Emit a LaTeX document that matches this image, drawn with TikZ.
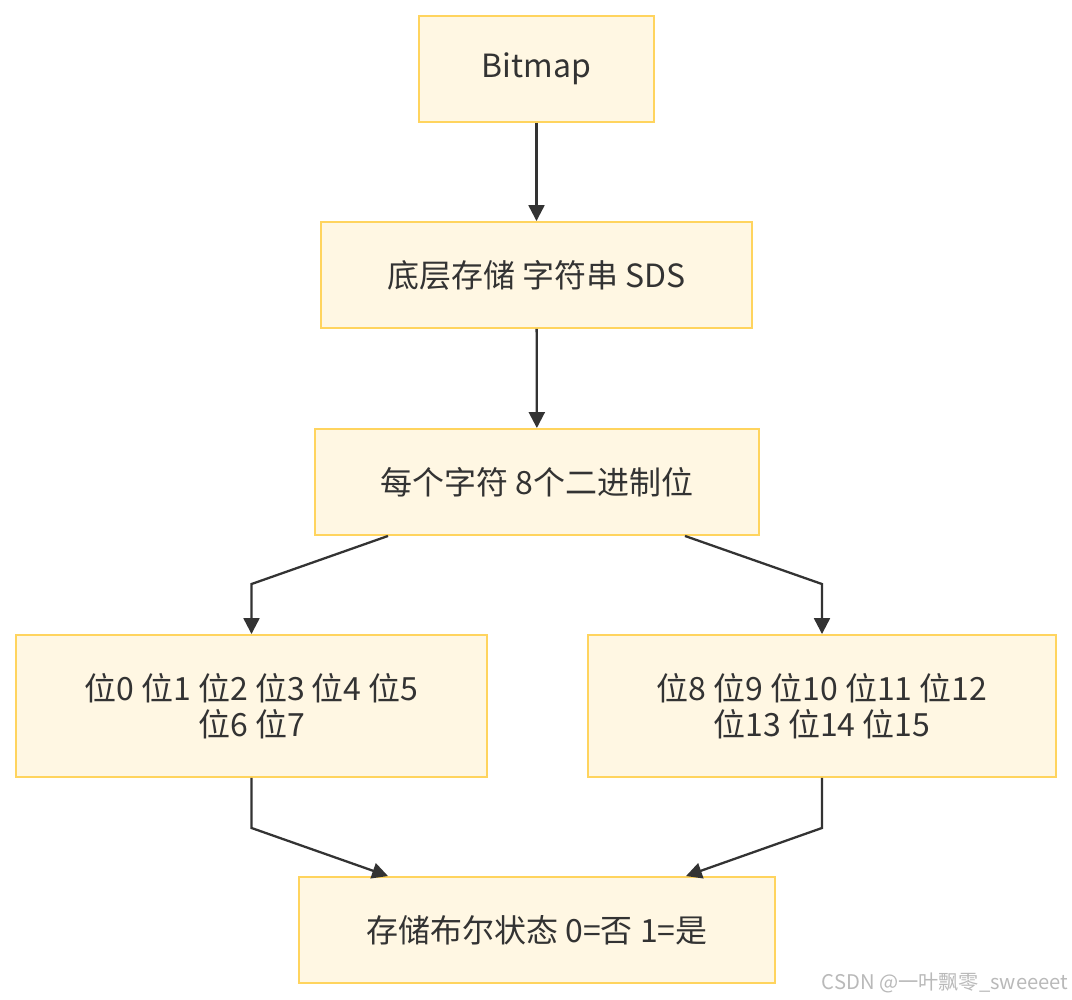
\documentclass[tikz,border=0pt]{standalone}
\usepackage{fontspec}
\usepackage{xcolor}
\usepackage{tikz}
\usetikzlibrary{arrows.meta, positioning}
\newfontfamily\cjk{Noto Sans CJK SC}
\definecolor{boxFill}{HTML}{FFF7E3}
\definecolor{boxEdge}{HTML}{FFD45E}
\definecolor{inkGray}{HTML}{333333}

\begin{document}
\begin{tikzpicture}[
    box/.style={rectangle, draw=boxEdge, fill=boxFill, line width=1.1pt,
        inner sep=0pt, align=center, text=inkGray,
        font=\cjk\fontsize{18.2}{20.6}\selectfont},
    arr/.style={-{Triangle[length=9pt, width=9pt]}, line width=1.3pt, inkGray}
]
\useasboundingbox (0,0) rectangle (21.44,-20);
\node[box, minimum width=4.7cm, minimum height=2.12cm] (bitmap) at (10.73,-1.38)
    {Bitmap};
\node[box, minimum width=8.62cm, minimum height=2.12cm] (sds) at (10.73,-5.5)
    {底层存储 字符串 SDS};
\node[box, minimum width=8.88cm, minimum height=2.12cm] (bits) at (10.74,-9.64)
    {每个字符 8个二进制位};
\node[box, minimum width=9.42cm, minimum height=2.84cm] (lowbits) at (5.03,-14.12)
    {位0 位1 位2 位3 位4 位5\\位6 位7};
\node[box, minimum width=9.36cm, minimum height=2.84cm] (highbits) at (16.44,-14.12)
    {位8 位9 位10 位11 位12\\位13 位14 位15};
\node[box, minimum width=9.52cm, minimum height=2.12cm] (state) at (10.74,-18.6)
    {存储布尔状态 0=否 1=是};
\node[font=\cjk\fontsize{11.5}{13}\selectfont, text=gray!55] (credit) at (18.9,-19.66)
    {CSDN @一叶飘零\_sweeeet};
\draw[arr] (bitmap) -- (sds);
\draw[arr] (sds) -- (bits);
\draw[arr] ([xshift=-2.98cm]bits.south) -- ([yshift=1cm]lowbits.north) -- (lowbits.north);
\draw[arr] ([xshift=2.96cm]bits.south) -- ([yshift=1cm]highbits.north) -- (highbits.north);
\draw[arr] (lowbits.south) -- ([yshift=-1cm]lowbits.south) -- ([xshift=-2.98cm]state.north);
\draw[arr] (highbits.south) -- ([yshift=-1cm]highbits.south) -- ([xshift=2.98cm]state.north);
\end{tikzpicture}
\end{document}
